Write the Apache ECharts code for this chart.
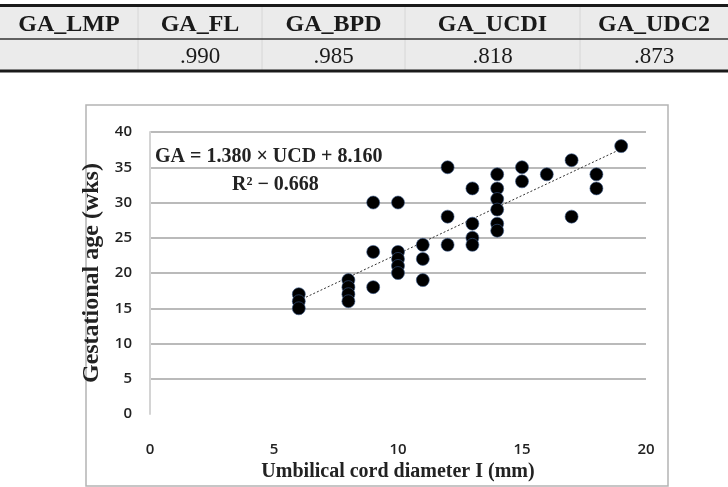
<!DOCTYPE html>
<html>
<head>
<meta charset="utf-8">
<script src="https://cdn.jsdelivr.net/npm/echarts@6/dist/echarts.min.js"></script>
<style>
html,body{margin:0;padding:0;background:#fff;}
#c{width:728px;height:487px;}
</style>
</head>
<body>
<div id="c"></div>
<script>
// Table contents
var tableHeaders = ['GA_LMP', 'GA_FL', 'GA_BPD', 'GA_UCDI', 'GA_UDC2'];
var tableValues = ['', '.990', '.985', '.818', '.873'];

// Scatter data: umbilical cord diameter (mm) vs gestational age (wks)
var ucd = [6,6,6, 8,8,8,8, 9,9,9, 10,10,10,10,10, 11,11,11, 12,12,12, 13,13,13,13, 14,14,14,14,14,14, 15,15, 16, 17,17, 18,18, 19];
var ga  = [17,16,15, 19,18,17,16, 30,23,18, 30,23,22,21,20, 24,22,19, 35,28,24, 32,27,25,24, 34,32,30.5,29,27,26, 35,33, 34, 36,28, 34,32, 38];

// Trend line endpoints as drawn
var trendX = [6, 19];
var trendY = [16.1, 37.6];

// Axis ticks
var xTicks = [0, 5, 10, 15, 20];
var yTicks = [0, 5, 10, 15, 20, 25, 30, 35, 40];

var equationText = 'GA = 1.380 × UCD + 8.160';
var r2Text = 'R² − 0.668';

var chart = echarts.init(document.getElementById('c'), null, {renderer: 'canvas'});

var colBounds = [0, 138, 262, 405, 580, 728];
var serif = '"Liberation Serif", "Times New Roman", serif';
var sans = '"Open Sans", "Liberation Sans", sans-serif';

var graphics = [];
// table background
graphics.push({type: 'rect', shape: {x: 0, y: 6, width: 728, height: 65}, style: {fill: '#ebebeb'}, silent: true});
// column separators
for (var i = 1; i < colBounds.length - 1; i++) {
  graphics.push({type: 'line', shape: {x1: colBounds[i], y1: 6, x2: colBounds[i], y2: 71}, style: {stroke: '#d6d6d6', lineWidth: 1}, silent: true});
}
// rules
graphics.push({type: 'line', shape: {x1: 0, y1: 5.5, x2: 728, y2: 5.5}, style: {stroke: '#1a1a1a', lineWidth: 3}, silent: true});
graphics.push({type: 'line', shape: {x1: 0, y1: 39, x2: 728, y2: 39}, style: {stroke: '#333', lineWidth: 1.5}, silent: true});
graphics.push({type: 'line', shape: {x1: 0, y1: 71, x2: 728, y2: 71}, style: {stroke: '#1a1a1a', lineWidth: 3}, silent: true});
for (var j = 0; j < tableHeaders.length; j++) {
  var cx = (colBounds[j] + colBounds[j + 1]) / 2;
  graphics.push({type: 'text', x: cx, y: 25, style: {text: tableHeaders[j], font: 'bold 24px ' + serif, fill: '#1a1a1a', align: 'center', verticalAlign: 'middle'}, silent: true});
  graphics.push({type: 'text', x: cx, y: 57, style: {text: tableValues[j], font: '23px ' + serif, fill: '#1a1a1a', align: 'center', verticalAlign: 'middle'}, silent: true});
}
// chart frame
graphics.push({type: 'rect', shape: {x: 86, y: 105, width: 582, height: 381}, style: {fill: 'none', stroke: '#b4b4b4', lineWidth: 1.5}, silent: true});
// equation text
graphics.push({type: 'text', x: 155, y: 157, style: {text: equationText, font: 'bold 20px ' + serif, fill: '#222', align: 'left', verticalAlign: 'middle'}, silent: true});
graphics.push({type: 'text', x: 232, y: 185, style: {text: r2Text, font: 'bold 20px ' + serif, fill: '#222', align: 'left', verticalAlign: 'middle'}, silent: true});

var splitColors = yTicks.map(function (v, k) { return k === 0 ? 'rgba(0,0,0,0)' : '#a3a3a3'; });

var option = {
  animation: false,
  backgroundColor: '#fff',
  grid: {left: 150, top: 132, width: 496, height: 283, containLabel: false},
  xAxis: {
    type: 'value', min: xTicks[0], max: xTicks[xTicks.length - 1], interval: 5,
    axisLine: {show: false}, axisTick: {show: false}, splitLine: {show: false},
    axisLabel: {margin: 28, fontFamily: sans, fontWeight: 600, fontSize: 15, color: '#222'},
    name: 'Umbilical cord diameter I (mm)', nameLocation: 'middle', nameGap: 45,
    nameTextStyle: {fontFamily: serif, fontWeight: 'bold', fontSize: 20, color: '#222'}
  },
  yAxis: {
    type: 'value', min: yTicks[0], max: yTicks[yTicks.length - 1], interval: 5,
    axisLine: {show: true, lineStyle: {color: '#d4d4d4', width: 2}},
    axisTick: {show: false},
    splitLine: {show: true, lineStyle: {color: splitColors, width: 1.5}},
    axisLabel: {margin: 18, fontFamily: sans, fontWeight: 600, fontSize: 15, color: '#222'},
    name: 'Gestational age (wks)', nameLocation: 'middle', nameRotate: 90, nameGap: 46,
    nameTextStyle: {fontFamily: serif, fontWeight: 'bold', fontSize: 24, color: '#222'}
  },
  graphic: graphics,
  series: [
    {
      type: 'line',
      data: trendX.map(function (x, k) { return [x, trendY[k]]; }),
      symbol: 'none',
      lineStyle: {color: '#333', width: 1, type: [2, 2]},
      z: 1
    },
    {
      type: 'scatter',
      data: ucd.map(function (x, k) { return [x, ga[k]]; }),
      symbol: 'circle',
      symbolSize: 13,
      itemStyle: {color: '#000', borderColor: '#3a5a8c', borderWidth: 0.6, opacity: 1},
      z: 3
    }
  ]
};
chart.setOption(option);
</script>
</body>
</html>
